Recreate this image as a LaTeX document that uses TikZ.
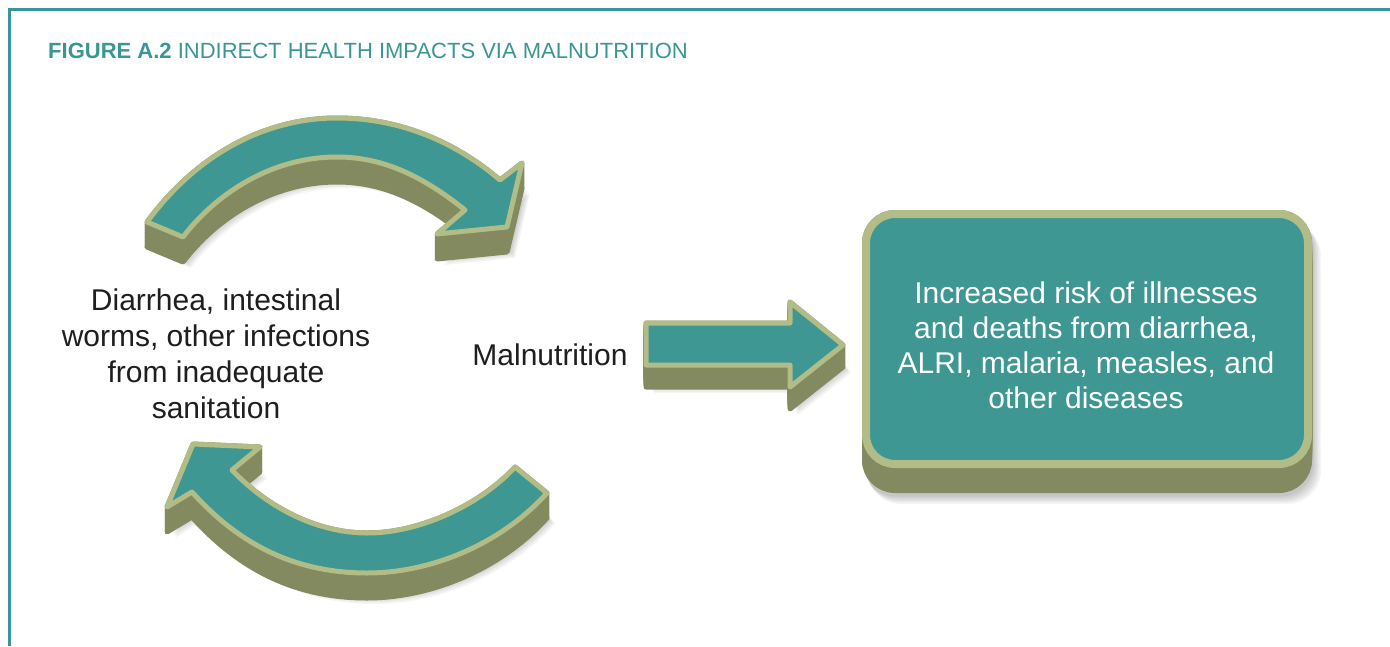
\documentclass[tikz,border=0pt]{standalone}
\usepackage{fontspec}
\setmainfont{Liberation Sans}
\definecolor{tealface}{RGB}{62,151,147}
\definecolor{rimolive}{RGB}{178,188,134}
\definecolor{sideolive}{RGB}{131,138,96}
\definecolor{frameteal}{RGB}{58,150,150}
\definecolor{inkgray}{RGB}{30,30,30}
\newcommand\TopArrowPath{(147,222) .. controls (200,150) and (270,118) .. (337,118) .. controls (410,118) and (465,150) .. (500,180) -- (522,163) -- (507,227) -- (437,234) -- (465,210) .. controls (425,178) and (385,157) .. (337,157) .. controls (270,157) and (215,195) .. (183,237) -- cycle}
\newcommand\BotArrowPath{(515,467) -- (547,493) .. controls (500,545) and (430,573) .. (367,573) .. controls (290,573) and (235,540) .. (192,492) -- (167,507) -- (193,444) -- (260,447) -- (232,470) .. controls (270,510) and (320,533) .. (367,533) .. controls (420,533) and (480,505) .. (515,467) -- cycle}
\newcommand\StrArrowPath{(646,323) -- (790,323) -- (790,302) -- (843,345) -- (790,387) -- (790,365) -- (646,365) -- cycle}
\tikzset{
  sideface/.style={draw=sideolive, fill=sideolive, line width=5pt, line join=round},
  topface/.style={draw=rimolive, fill=tealface, line width=5pt, line join=round},
  softshadow/.style={fill=black, opacity=0.04, draw=none},
  bodytext/.style={text=inkgray, align=center, font=\fontsize{30}{36}\selectfont},
  boxtext/.style={text=white, align=center, font=\fontsize{30}{35}\selectfont},
  riskbox/.style={draw=rimolive, fill=tealface, line width=8pt, rounded corners=29pt, minimum width=442pt, minimum height=250pt, inner sep=0pt},
  framebar/.style={draw=frameteal, line width=3pt}
}
\begin{document}
\begin{tikzpicture}[x=1pt,y=-1pt]
\useasboundingbox (0,0) rectangle (1390,646);
\fill[white] (0,0) rectangle (1390,646);
% frame
\draw[framebar] (9,646) -- (9,9) -- (1390,9);
% title
\node[anchor=base west, inner sep=0pt, text=frameteal, font=\fontsize{22}{26}\selectfont] (title) at (48,58) {\textbf{FIGURE A.2} INDIRECT HEALTH IMPACTS VIA MALNUTRITION};
% shadows
\foreach \s in {1,...,6} {
  \fill[softshadow, shift={({2+\s},{22+1.5*\s})}] \TopArrowPath;
  \fill[softshadow, shift={({2+\s},{22+1.5*\s})}] \BotArrowPath;
  \fill[softshadow, shift={({2+\s},{19+1.5*\s})}] \StrArrowPath;
  \fill[softshadow, rounded corners=33pt] ({862+\s},{214+1.5*\s}) rectangle ({1312+1.5*\s},{495+1.5*\s});
}
% extrusions
\foreach \d in {0,2,...,24} {
  \filldraw[sideface, shift={(0,\d)}] \TopArrowPath;
  \filldraw[sideface, shift={(0,\d)}] \BotArrowPath;
  \draw[sideface, line width=8pt, rounded corners=29pt] (866,{214+\d}) rectangle (1308,{464+\d});
}
\draw[sideface, line width=8pt, rounded corners=29pt] (866,{214+25}) rectangle (1308,{464+25});
\filldraw[sideface, shift={(0,25)}] \TopArrowPath;
\filldraw[sideface, shift={(0,25)}] \BotArrowPath;
\foreach \d in {0,2,...,22} {
  \filldraw[sideface, shift={(0,\d)}] \StrArrowPath;
}
% top faces
\filldraw[topface] \TopArrowPath;
\filldraw[topface] \BotArrowPath;
\filldraw[topface] \StrArrowPath;
\node[riskbox] (risk) at (1087,339) {};
\node[boxtext] (risktext) at (1086,345) {Increased risk of illnesses\\and deaths from diarrhea,\\ALRI, malaria, measles, and\\other diseases};
% texts
\node[bodytext] (cause) at (216,354) {Diarrhea, intestinal\\worms, other infections\\from inadequate\\sanitation};
\node[bodytext] (maln) at (550,355) {Malnutrition};
\end{tikzpicture}
\end{document}
